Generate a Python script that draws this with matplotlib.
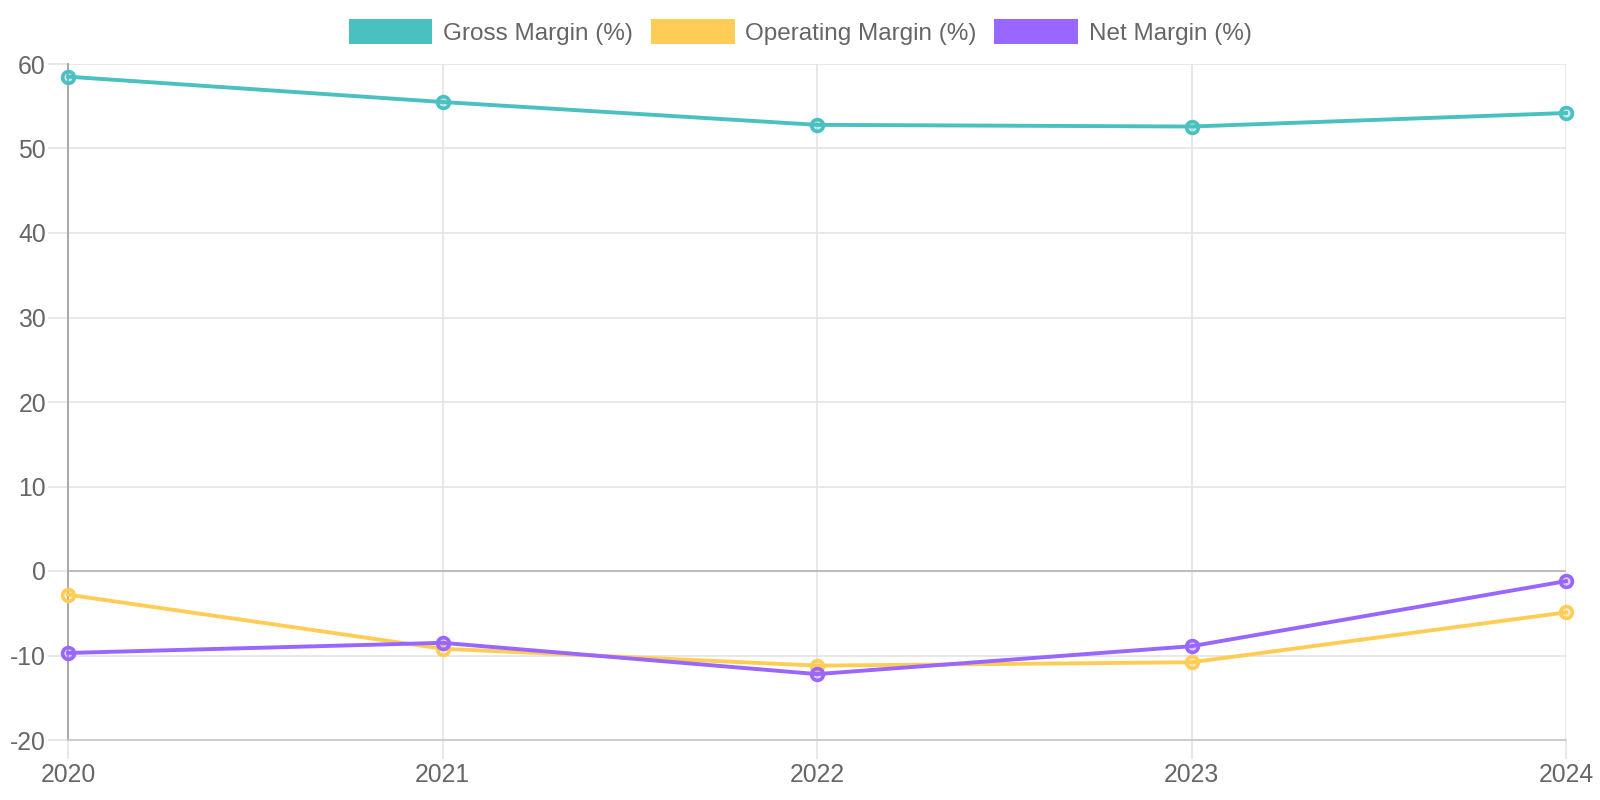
import numpy as np
import matplotlib
matplotlib.use("Agg")
import matplotlib.pyplot as plt
from matplotlib.patches import Patch
from matplotlib.colors import to_rgba

# data
years = ["2020", "2021", "2022", "2023", "2024"]
gross_margin = [58.5, 55.5, 52.8, 52.6, 54.2]
operating_margin = [-2.8, -9.2, -11.2, -10.8, -4.9]
net_margin = [-9.7, -8.5, -12.2, -8.9, -1.2]

series_names = ["Gross Margin (%)", "Operating Margin (%)", "Net Margin (%)"]
colors = ["#4BC0C0", "#FFCD56", "#9966FF"]

plt.rcParams['font.family'] = ['Liberation Sans', 'DejaVu Sans']
plt.rcParams['axes.unicode_minus'] = False
text_col = "#666666"
fs = 17.8

fig = plt.figure(figsize=(16, 8), dpi=100)
ax = fig.add_axes([0.0425, 0.075, 0.97875 - 0.0425, 0.92 - 0.075])

x = np.arange(len(years))
for vals, c in zip([gross_margin, operating_margin, net_margin], colors):
    ax.plot(x, vals, color=c, lw=2.8, marker='o', markersize=8.5,
            markeredgewidth=2.6, markeredgecolor=c,
            markerfacecolor=to_rgba(c, 0.3), clip_on=False, zorder=3)

ax.set_xlim(0, len(years) - 1)
ax.set_ylim(-20, 60)
ax.set_yticks(np.arange(-20, 61, 10))
ax.set_xticks(x)
ax.set_xticklabels(years)

ax.set_axisbelow(True)
ax.grid(True, color="#e2e2e2", lw=1.1)
ax.axhline(0, color="#b8b8b8", lw=1.3, zorder=1)

ax.spines['top'].set_visible(False)
ax.spines['right'].set_visible(False)
ax.spines['left'].set_color("#a8a8a8")
ax.spines['left'].set_linewidth(1.4)
ax.spines['bottom'].set_color("#c8c8c8")
ax.spines['bottom'].set_linewidth(1.3)

ax.tick_params(axis='y', length=14.4, width=1.1, color="#e2e2e2", pad=1.5,
               labelsize=fs, labelcolor=text_col)
ax.tick_params(axis='x', length=13.5, width=1.1, color="#e2e2e2", pad=3,
               labelsize=fs, labelcolor=text_col)

handles = [Patch(facecolor=c, edgecolor='none') for c in colors]
fig.legend(handles, series_names, loc='center', bbox_to_anchor=(0.5, 0.96),
           ncol=3, frameon=False, fontsize=17.5, labelcolor=text_col,
           handlelength=3.45, handleheight=1.16, handletextpad=0.42,
           columnspacing=0.75)

fig.savefig("out.png", dpi=100)
